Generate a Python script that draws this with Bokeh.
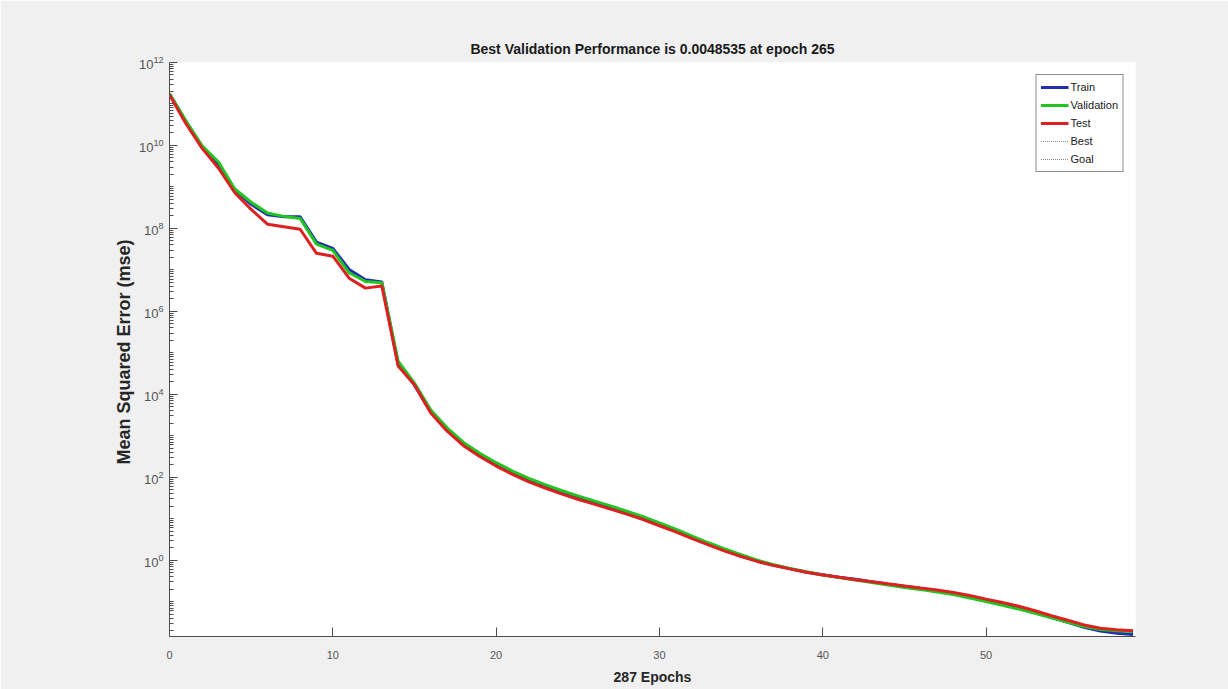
from bokeh.plotting import figure
from bokeh.models import Range1d, FixedTicker, Legend, LegendItem, ColumnDataSource
from bokeh.embed import file_html
from bokeh.resources import INLINE

title_text = "Best Validation Performance is 0.0048535 at epoch 265"
x_label = "287 Epochs"
y_label = "Mean Squared Error  (mse)"
series_names = ["Train", "Validation", "Test", "Best", "Goal"]

best_epoch = 265
best_perf = 0.0048535
goal = 0.0

epochs = list(range(60))
train_mse = [1.74e11, 3.72e10, 9.12e9, 3.31e9, 8.32e8, 3.80e8, 2.14e8, 1.91e8, 1.91e8, 4.68e7,
             3.31e7, 1.02e7, 5.75e6, 5.13e6, 5.25e4, 1.66e4, 3.72e3, 1.38e3, 617, 339,
             200, 126, 83.2, 58.9, 42.7, 31.6, 24.0, 18.2, 13.8, 10.2,
             7.24, 5.13, 3.55, 2.45, 1.74, 1.26, 0.955, 0.759, 0.617, 0.513,
             0.447, 0.389, 0.347, 0.302, 0.263, 0.234, 0.209, 0.182, 0.158, 0.135,
             0.110, 0.0891, 0.0708, 0.0550, 0.0417, 0.0316, 0.0240, 0.0195, 0.0174, 0.0162]
val_mse = [1.78e11, 3.98e10, 9.77e9, 3.98e9, 8.91e8, 4.27e8, 2.34e8, 1.95e8, 1.74e8, 4.17e7,
           2.95e7, 8.51e6, 5.25e6, 4.90e6, 6.31e4, 1.86e4, 4.17e3, 1.55e3, 692, 380,
           224, 141, 93.3, 66.1, 47.9, 35.5, 26.9, 20.4, 15.1, 11.2,
           7.94, 5.62, 3.80, 2.63, 1.86, 1.35, 1.00, 0.776, 0.631, 0.525,
           0.437, 0.380, 0.331, 0.288, 0.251, 0.219, 0.195, 0.170, 0.148, 0.123,
           0.100, 0.0813, 0.0661, 0.0525, 0.0407, 0.0316, 0.0251, 0.0214, 0.0200, 0.0191]
test_mse = [1.66e11, 3.39e10, 8.51e9, 2.82e9, 7.24e8, 2.88e8, 1.26e8, 1.10e8, 9.55e7, 2.51e7,
            2.14e7, 6.31e6, 3.63e6, 4.07e6, 4.79e4, 1.70e4, 3.55e3, 1.29e3, 575, 316,
            186, 117, 77.6, 55.0, 39.8, 29.5, 22.4, 17.0, 12.9, 9.55,
            6.76, 4.79, 3.31, 2.34, 1.66, 1.23, 0.933, 0.741, 0.617, 0.513,
            0.437, 0.389, 0.339, 0.302, 0.269, 0.240, 0.214, 0.191, 0.166, 0.141,
            0.115, 0.0955, 0.0776, 0.0603, 0.0457, 0.0355, 0.0275, 0.0229, 0.0209, 0.0200]

x_ticks = [0, 10, 20, 30, 40, 50]
y_major = [1e0, 1e2, 1e4, 1e6, 1e8, 1e10, 1e12]
y_minor = [k * 10.0 ** n for n in range(-2, 12) for k in range(1, 10)]

FONT = "Liberation Sans"

p = figure(width=1228, height=689, y_axis_type="log",
           x_range=Range1d(0, 59.15), y_range=Range1d(0.01445, 1e12),
           output_backend="svg", toolbar_location=None,
           min_border_left=169, min_border_right=93, min_border_top=62, min_border_bottom=53)
p.border_fill_color = "#f0f0f0"
p.background_fill_color = "white"
p.outline_line_color = None
p.grid.visible = False

p.title.text = title_text
p.title.align = "center"
p.title.text_font = FONT
p.title.text_font_style = "bold"
p.title.text_font_size = "14px"
p.title.text_color = "#1a1a1a"
p.title.standoff = 11

colors = ["#1f2fb0", "#22c422", "#dd2020"]
src = ColumnDataSource(dict(epoch=epochs, train=train_mse, val=val_mse, test=test_mse))
r_train = p.line("epoch", "train", source=src, line_color=colors[0], line_width=3)
r_val = p.line("epoch", "val", source=src, line_color=colors[1], line_width=3)
r_test = p.line("epoch", "test", source=src, line_color=colors[2], line_width=3)
best_src = ColumnDataSource(dict(x=[best_epoch, best_epoch], y=[best_perf, best_perf]))
goal_src = ColumnDataSource(dict(x=[0, best_epoch], y=[goal, goal]))
r_best = p.line("x", "y", source=best_src, line_color="#8c8c8c", line_width=1, line_dash="1 1")
r_goal = p.line("x", "y", source=goal_src, line_color="#8c8c8c", line_width=1, line_dash="1 1")

for ax in (p.xaxis[0], p.yaxis[0]):
    ax.axis_line_color = "#4d4d4d"
    ax.major_tick_line_color = "#4d4d4d"
    ax.minor_tick_line_color = "#4d4d4d"
    ax.major_tick_out = 0
    ax.minor_tick_out = 0
    ax.major_label_text_color = "#555555"
    ax.axis_label_text_color = "#262626"
    ax.axis_label_text_font_style = "bold"

p.xaxis.ticker = FixedTicker(ticks=x_ticks)
p.xaxis.major_tick_in = 9
p.xaxis.minor_tick_in = 0
p.xaxis.major_label_text_font = FONT
p.xaxis.major_label_text_font_size = "11px"
p.xaxis.major_label_standoff = 14
p.xaxis.axis_label = x_label
p.xaxis.axis_label_text_font = FONT
p.xaxis.axis_label_text_font_size = "14px"
p.xaxis.axis_label_standoff = 7

p.yaxis.ticker = FixedTicker(ticks=y_major, minor_ticks=y_minor)
p.yaxis.major_tick_in = 8
p.yaxis.minor_tick_in = 4
p.yaxis.major_label_text_font = FONT
p.yaxis.major_label_text_font_size = "13px"
p.yaxis.major_label_standoff = 6
p.yaxis.axis_label = y_label
p.yaxis.axis_label_text_font = FONT
p.yaxis.axis_label_text_font_size = "18px"
p.yaxis.axis_label_standoff = 2

legend = Legend(items=[LegendItem(label=n, renderers=[r]) for n, r in
                       zip(series_names, [r_train, r_val, r_test, r_best, r_goal])],
                location="top_right", margin=12, padding=4, spacing=2,
                glyph_width=28, glyph_height=16, label_height=16, label_standoff=2,
                label_text_font=FONT, label_text_font_size="11px", label_text_color="#1a1a1a",
                border_line_color="#1a1a1a", border_line_width=1, background_fill_color="white",
                background_fill_alpha=1.0)
p.add_layout(legend)

open("out.html", "w").write(file_html(p, INLINE))
